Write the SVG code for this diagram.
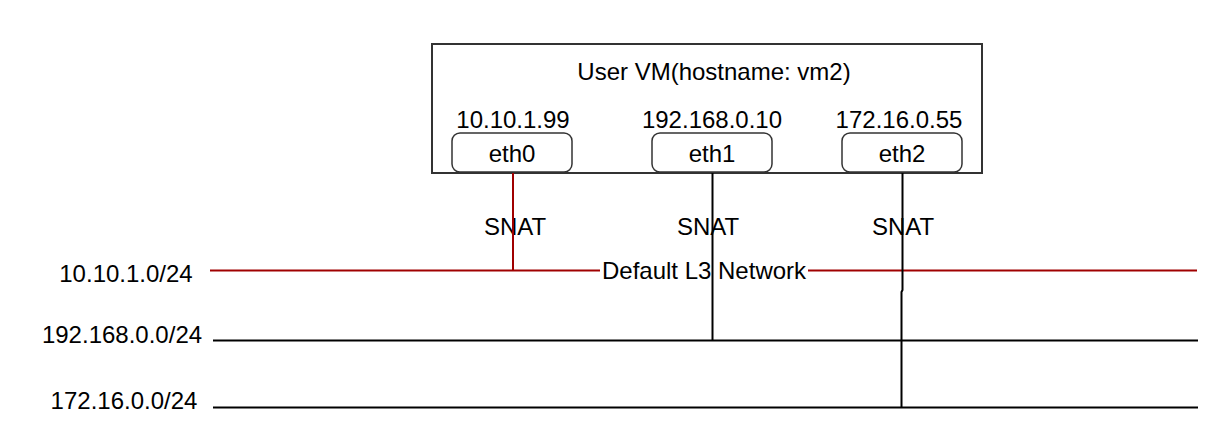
<svg xmlns="http://www.w3.org/2000/svg" width="1225" height="441" viewBox="0 0 1225 441">
<style>
text{font-family:"Liberation Sans",Arial,sans-serif;font-size:24px;fill:#000;}
.c{text-anchor:middle;}
.box{fill:#fff;stroke:#333;stroke-width:2;}
.port{fill:#fff;stroke:#333;stroke-width:1.5;}
.red{stroke:#a00000;stroke-width:2;fill:none;}
.blk{stroke:#000;stroke-width:2;fill:none;}
</style>
<rect width="1225" height="441" fill="#fff"/>
<g id="vm">
<rect class="box" x="432" y="44" width="550" height="129"/>
<text class="c" x="714" y="80">User VM(hostname: vm2)</text>
</g>
<g id="connectors">
<line class="red" x1="210" y1="270.5" x2="1197" y2="270.5"/>
<line class="blk" x1="213" y1="340.5" x2="1198" y2="340.5"/>
<line class="blk" x1="213" y1="407.5" x2="1198" y2="407.5"/>
<rect x="600" y="258" width="208" height="26" fill="#fff"/>
<text class="c" x="704" y="279">Default L3 Network</text>
<text class="c" x="515" y="235">SNAT</text>
<text class="c" x="708" y="235">SNAT</text>
<text class="c" x="903" y="235">SNAT</text>
<line class="red" x1="513" y1="173" x2="513" y2="270.5"/>
<line class="blk" x1="712.5" y1="173" x2="712.5" y2="340.5"/>
<path class="blk" d="M902.5 173 V290 L901.5 292 V407.5"/>
</g>
<g id="eth0">
<text class="c" x="513" y="128">10.10.1.99</text>
<rect class="port" x="452" y="133" width="120" height="39" rx="8"/>
<text class="c" x="512" y="162">eth0</text>
</g>
<g id="eth1">
<text class="c" x="712" y="128">192.168.0.10</text>
<rect class="port" x="652" y="133" width="120" height="39" rx="8"/>
<text class="c" x="712" y="162">eth1</text>
</g>
<g id="eth2">
<text class="c" x="899" y="128">172.16.0.55</text>
<rect class="port" x="842" y="133" width="120" height="39" rx="8"/>
<text class="c" x="902" y="162">eth2</text>
</g>
<g id="net1"><text class="c" x="126" y="282">10.10.1.0/24</text></g>
<g id="net2"><text class="c" x="122" y="343">192.168.0.0/24</text></g>
<g id="net3"><text class="c" x="124" y="409">172.16.0.0/24</text></g>
</svg>
